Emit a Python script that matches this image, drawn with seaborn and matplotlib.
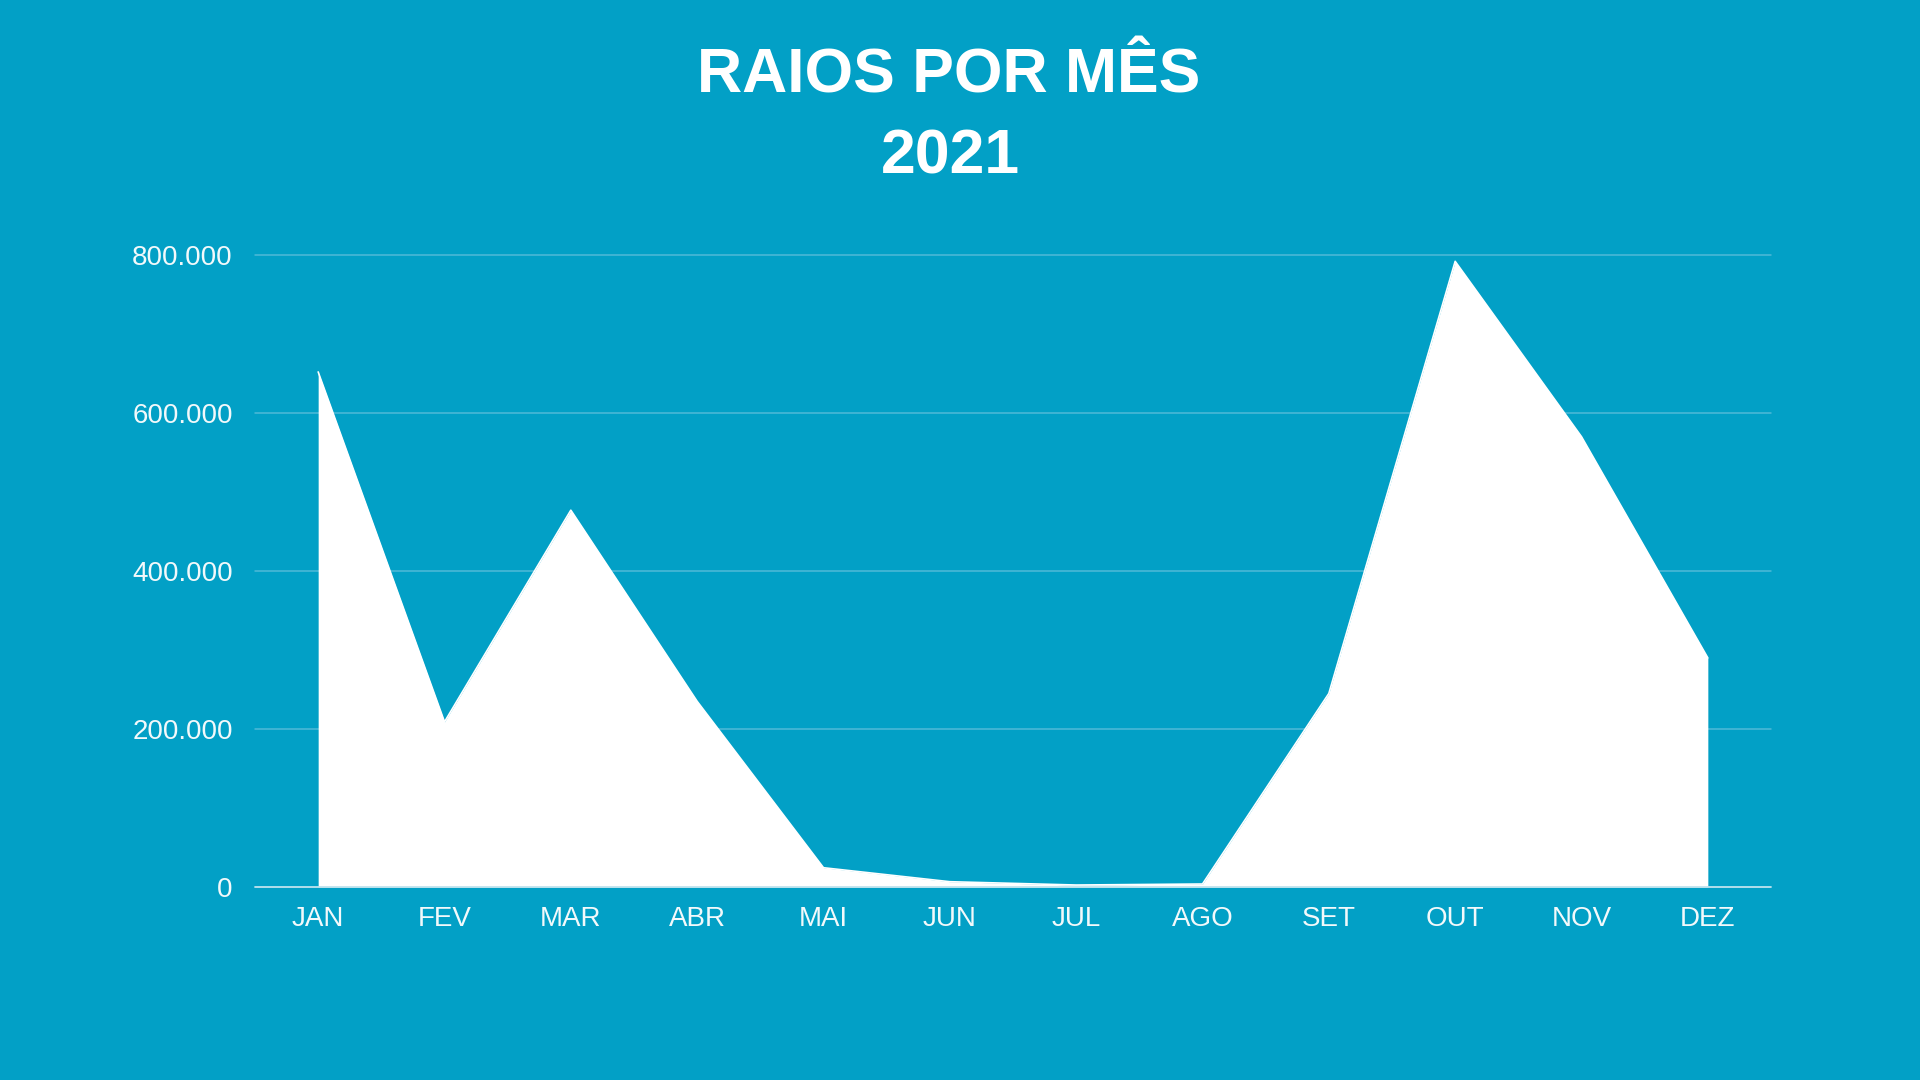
import numpy as np
import pandas as pd
import seaborn as sns
import matplotlib.pyplot as plt

# dados
meses = ["JAN", "FEV", "MAR", "ABR", "MAI", "JUN", "JUL", "AGO", "SET", "OUT", "NOV", "DEZ"]
raios = [652000, 209000, 477000, 235000, 24400, 6700, 2500, 3800, 245000, 792000, 570000, 290000]
yticks = [0, 200000, 400000, 600000, 800000]
ytick_labels = ["0", "200.000", "400.000", "600.000", "800.000"]

bg = "#02A0C6"
grid_col = "#4FBAD8"
txt_col = "#F2F9FB"

sns.set_theme(style="white")
plt.rcParams['font.family'] = ['Liberation Sans', 'DejaVu Sans']

df = pd.DataFrame({"mes": meses, "raios": raios})

fig = plt.figure(figsize=(19.2, 10.8), dpi=100, facecolor=bg)
ax = fig.add_axes([255 / 1920, 1 - 887 / 1080, (1771 - 255) / 1920, (887 - 255) / 1080])
ax.set_facecolor(bg)

sns.lineplot(data=df, x="mes", y="raios", color="white", linewidth=1.2, ax=ax, zorder=3)
ax.fill_between(np.arange(len(meses)), df["raios"], 0, color="white", linewidth=0, zorder=3)
for ln in ax.lines:
    ln.set_clip_on(False)

ax.set_xlim(-0.5, len(meses) - 0.5)
ax.set_ylim(0, 800000)
ax.set_yticks(yticks)
ax.set_yticklabels(ytick_labels)

# grade horizontal
for v in yticks[1:]:
    ax.axhline(v, color=grid_col, linewidth=1.1, zorder=1, clip_on=False)
ax.axhline(0, color="#BFE3EE", linewidth=1.3, zorder=4, clip_on=False)

for s in ax.spines.values():
    s.set_visible(False)
ax.tick_params(axis="y", length=0, pad=16, labelsize=20, labelcolor=txt_col)
ax.tick_params(axis="x", length=0, pad=14, labelsize=20, labelcolor=txt_col)
ax.set_xlabel("")
ax.set_ylabel("")

fig.text(0.494, 1 - 76 / 1080, "RAIOS POR MÊS", ha="center", va="center",
         fontsize=45, fontweight="bold", color="white")
fig.text(0.495, 1 - 157 / 1080, "2021", ha="center", va="center",
         fontsize=45, fontweight="bold", color="white")

plt.savefig("out.png", dpi=100, facecolor=bg)
plt.close()
